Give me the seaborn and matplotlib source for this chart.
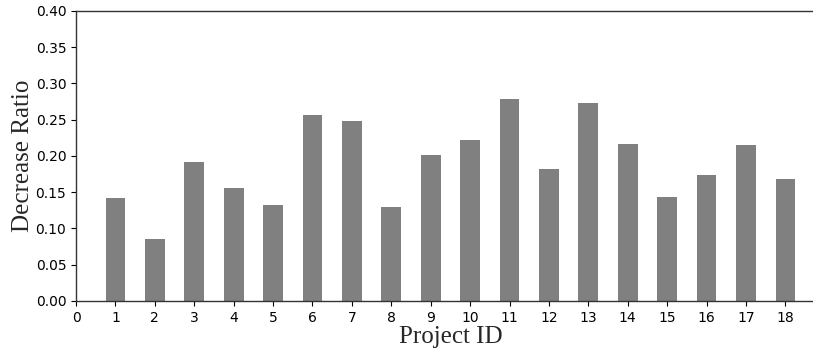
import numpy as np
import pandas as pd
import matplotlib
matplotlib.use("Agg")
import matplotlib.pyplot as plt
import seaborn as sns

project_ids = list(range(1, 19))
decrease_ratio = [0.142, 0.086, 0.192, 0.156, 0.132, 0.257, 0.248, 0.130, 0.201,
                  0.222, 0.279, 0.182, 0.273, 0.217, 0.143, 0.174, 0.215, 0.168]
x_ticks = list(range(0, 19))
y_ticks = [0.00, 0.05, 0.10, 0.15, 0.20, 0.25, 0.30, 0.35, 0.40]

df = pd.DataFrame({"Project ID": project_ids, "Decrease Ratio": decrease_ratio})

sns.set_style("ticks")
plt.rcParams['font.family'] = ['DejaVu Sans']

fig = plt.figure(figsize=(8.13, 3.52), dpi=100)
# axes runs a little past the right edge, as in the cropped original
ax = fig.add_axes([0.0935, 0.145, 0.921, 0.824])

sns.barplot(data=df, x="Project ID", y="Decrease Ratio", native_scale=True,
            width=0.5, color="gray", saturation=1, linewidth=0, ax=ax)

ax.set_xlim(0, 19)
ax.set_ylim(0, 0.40)
ax.set_xticks(x_ticks)
ax.set_xticklabels([str(t) for t in x_ticks])
ax.set_yticks(y_ticks)
ax.set_yticklabels([f"{t:.2f}" for t in y_ticks])
ax.tick_params(axis='both', labelsize=10, colors='black', length=3.5, width=0.8)

ax.set_xlabel("Project ID", fontsize=18, family="Liberation Serif", labelpad=1)
ax.set_ylabel("Decrease Ratio", fontsize=18, family="Liberation Serif", labelpad=1)

for side in ["left", "bottom", "top"]:
    ax.spines[side].set_visible(True)
    ax.spines[side].set_color("#333333")
    ax.spines[side].set_linewidth(1.0)
ax.spines["right"].set_visible(False)

fig.savefig("out.png", dpi=100)
